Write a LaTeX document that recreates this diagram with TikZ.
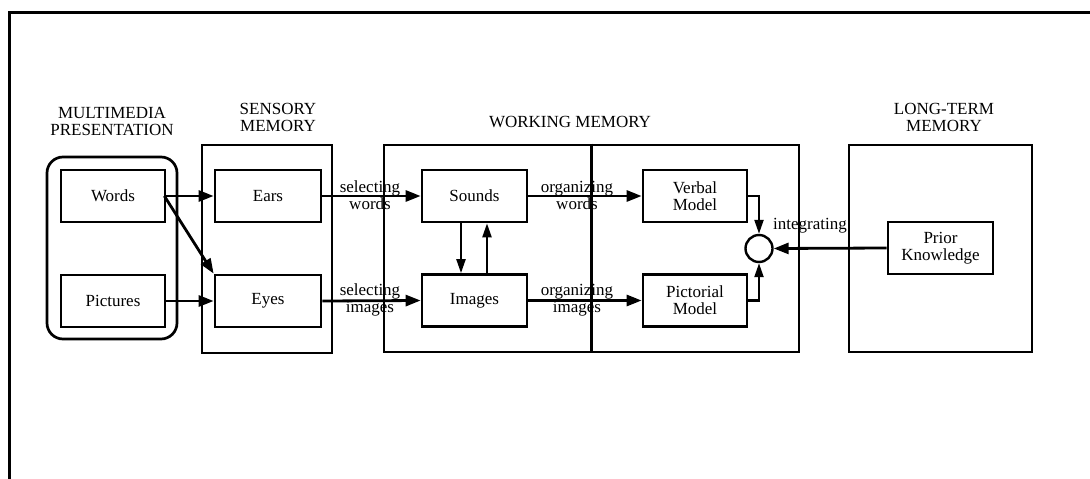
\documentclass[tikz,border=0pt]{standalone}
\usepackage{fontspec}
\setmainfont{Liberation Serif}
\usetikzlibrary{arrows.meta}
\begin{document}
\begin{tikzpicture}[x=1pt,y=-1pt,
  font=\fontsize{17}{17}\selectfont,
  ibox/.style={draw,line width=2.7pt,minimum width=105pt,minimum height=52pt,inner sep=0pt,align=center},
  cbox/.style={draw,line width=2.7pt,inner sep=0pt},
  head/.style={align=center,inner sep=0pt},
  lbl/.style={align=center,inner sep=0pt},
  arr/.style={line width=2.8pt,-{Triangle[length=15pt,width=11pt]}},
  thin arr/.style={line width=2.2pt,-{Triangle[length=14pt,width=9pt]}}]
\useasboundingbox (0,0) rectangle (1090,479);
\draw[line width=3pt] (9,479) -- (9,12) -- (1090,12);
% containers
\node[cbox,rounded corners=16pt,minimum width=130pt,minimum height=182pt] (mm) at (112,248) {};
\node[cbox,minimum width=130pt,minimum height=208pt] (sm) at (267,249) {};
\node[cbox,minimum width=415pt,minimum height=207pt] (wm) at (591.5,248.5) {};
\node[cbox,minimum width=183pt,minimum height=207pt] (lt) at (940.5,248.5) {};
\draw[line width=2.7pt] (wm.north) -- (wm.south);
% headings
\node[head] (hmm) at (112,121) {MULTIMEDIA\\PRESENTATION};
\node[head] (hsm) at (278,117) {SENSORY\\MEMORY};
\node[head] (hwm) at (570,122) {WORKING MEMORY};
\node[head] (hlt) at (944,117) {LONG-TERM\\MEMORY};
% inner boxes
\node[ibox,minimum width=104pt] (words) at (113,196) {Words};
\node[ibox,minimum width=104pt] (pics) at (113,301) {Pictures};
\node[ibox,minimum width=106pt] (ears) at (268,196) {Ears};
\node[ibox,minimum width=106pt] (eyes) at (268,301) {Eyes};
\node[ibox] (sounds) at (474.5,196) {Sounds};
\node[ibox] (images) at (474.5,300.5) {Images};
\node[ibox,minimum width=104pt] (verbal) at (695,196) {Verbal\\Model};
\node[ibox,minimum width=104pt] (pict) at (695,300.5) {Pictorial\\Model};
\node[ibox] (prior) at (940.5,248) {Prior\\Knowledge};
\node[draw,circle,line width=2.4pt,minimum size=27pt,inner sep=0pt] (circ) at (759,248.5) {};
% labels
\node[lbl] (l1) at (370,195) {selecting\\words};
\node[lbl] (l2) at (370,300) {selecting\\images};
\node[lbl] (l3) at (577,195) {organizing\\words};
\node[lbl] (l4) at (577,300) {organizing\\images};
\node[lbl] (l5) at (810,226) {integrating};
% arrows
\draw[arr] ([xshift=-2pt]words.east) -- (ears.west);
\draw[arr] ([xshift=-2pt]words.east) -- (eyes.north west);
\draw[arr] ([xshift=-2pt]pics.east) -- (eyes.west);
\draw[arr] (ears.east) -- (sounds.west);
\draw[arr] (eyes.east) -- (images.west);
\draw[arr] (sounds.east) -- (verbal.west);
\draw[arr] (images.east) -- (pict.west);
\draw[thin arr] ([xshift=-13.5pt]sounds.south) -- ([xshift=-13.5pt]images.north);
\draw[thin arr] ([xshift=12.5pt]images.north) -- ([xshift=12.5pt]sounds.south);
\draw[thin arr] (verbal.east) -| (circ.north);
\draw[thin arr] (pict.east) -| (circ.south);
\draw[arr] (prior.west) -- (circ.east);
\end{tikzpicture}
\end{document}
